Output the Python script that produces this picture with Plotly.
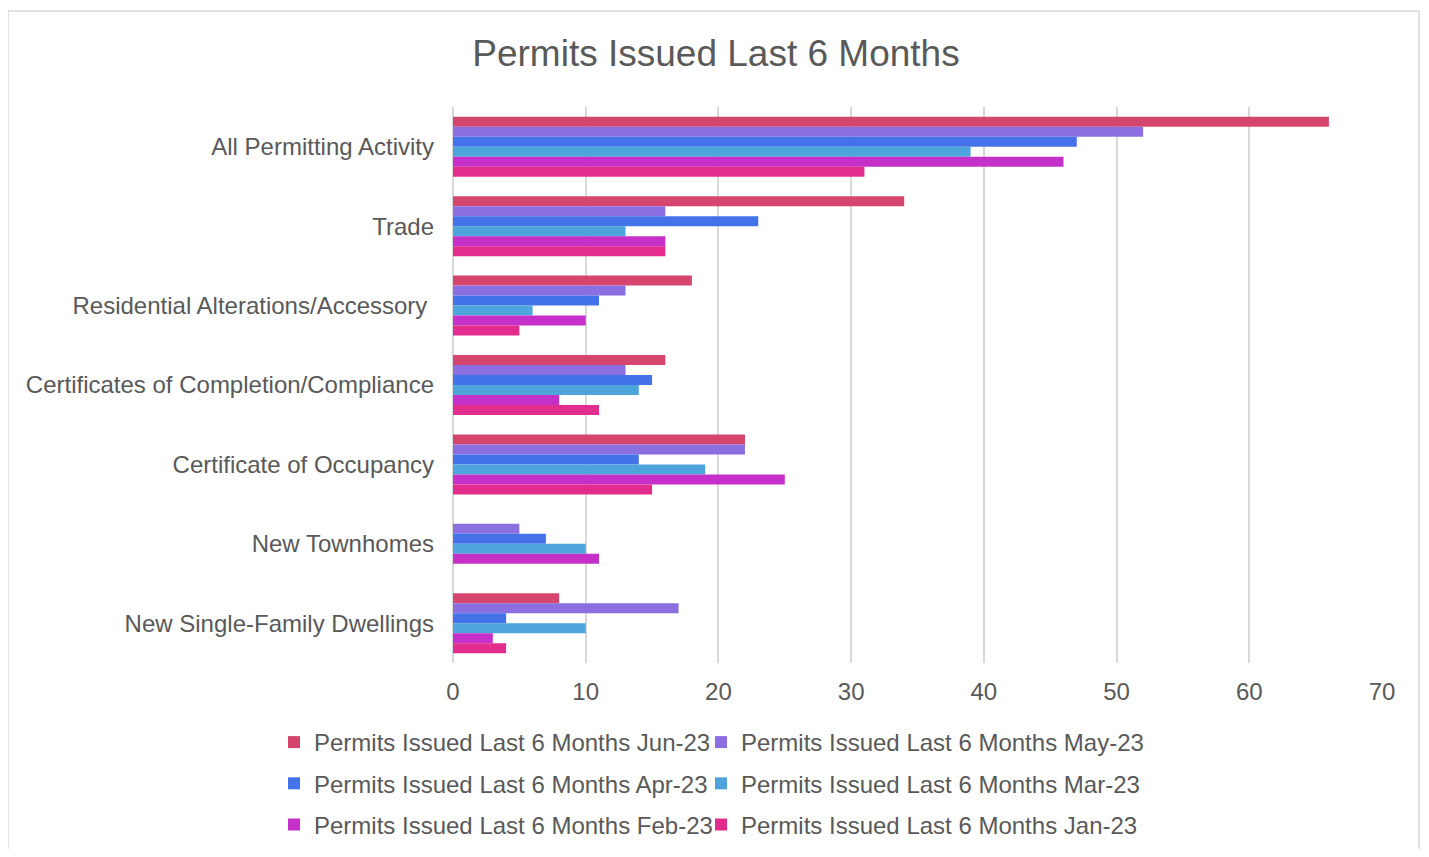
import plotly.graph_objects as go

categories = [
    "All Permitting Activity",
    "Trade",
    "Residential Alterations/Accessory ",
    "Certificates of Completion/Compliance",
    "Certificate of Occupancy",
    "New Townhomes",
    "New Single-Family Dwellings",
]

series_names = [
    "Permits Issued Last 6 Months Jun-23",
    "Permits Issued Last 6 Months May-23",
    "Permits Issued Last 6 Months Apr-23",
    "Permits Issued Last 6 Months Mar-23",
    "Permits Issued Last 6 Months Feb-23",
    "Permits Issued Last 6 Months Jan-23",
]

jun_23 = [66, 34, 18, 16, 22, 0, 8]
may_23 = [52, 16, 13, 13, 22, 5, 17]
apr_23 = [47, 23, 11, 15, 14, 7, 4]
mar_23 = [39, 13, 6, 14, 19, 10, 10]
feb_23 = [46, 16, 10, 8, 25, 11, 3]
jan_23 = [31, 16, 5, 11, 15, 0, 4]

colors = ["#D5466F", "#8B6FE0", "#4472E8", "#4EA5DC", "#C430C8", "#E32D8E"]
legend_ids = ["legend", "legend2", "legend", "legend2", "legend", "legend2"]

x_ticks = [0, 10, 20, 30, 40, 50, 60, 70]

# page has an 8px body margin; figure is sized so the page does not scroll vertically
OFF = 8
W, H = 1429 - OFF, 857 - 2 * OFF
ML, MR, MT = 453 - OFF, 1429 - 1382, 107 - OFF
MB = H - (663 - OFF)

FONT = "Liberation Sans, Arial, sans-serif"
TXT = "#595959"

fig = go.Figure()
for i, (name, vals, col, lg) in enumerate(zip(series_names,
                                               [jun_23, may_23, apr_23, mar_23, feb_23, jan_23],
                                               colors, legend_ids)):
    fig.add_trace(go.Bar(
        y=categories, x=vals, name=name, orientation="h",
        marker=dict(color=col, line=dict(width=0)),
        legend=lg, legendgroup="g%d" % i,
    ))

pw = W - ML - MR
ph = H - MT - MB
def px_x(p):
    return (p - OFF - ML) / pw
def px_y(p):
    return (H - MB - (p - OFF)) / ph

fig.add_shape(type="rect", xref="paper", yref="paper",
              x0=px_x(8), x1=px_x(1419), y0=px_y(900), y1=px_y(11),
              line=dict(color="#D9D9D9", width=1.5), fillcolor="rgba(0,0,0,0)", layer="below")

leg_common = dict(orientation="v", xref="container", yref="container", xanchor="left", yanchor="top",
                  traceorder="grouped", tracegroupgap=7, itemwidth=30,
                  font=dict(size=24, color=TXT, family=FONT), bgcolor="rgba(0,0,0,0)")

fig.update_layout(
    width=W, height=H,
    margin=dict(l=ML, r=MR, t=MT, b=MB, autoexpand=False),
    paper_bgcolor="white", plot_bgcolor="white",
    barmode="group", bargap=0.245, bargroupgap=0,
    font=dict(family=FONT, color=TXT, size=24),
    title=dict(text="Permits Issued Last 6 Months", x=(716 - OFF) / W, xref="container", xanchor="center",
               y=1 - (53 - OFF) / H, yref="container", yanchor="middle",
               font=dict(size=37, color=TXT, family=FONT)),
    xaxis=dict(range=[0, 70], tickvals=x_ticks, showgrid=True, gridcolor="#D9D9D9", gridwidth=1.5,
               zeroline=True, zerolinecolor="#D9D9D9", zerolinewidth=2, showline=False,
               ticks="", ticklabelstandoff=12, tickfont=dict(size=24, color=TXT)),
    yaxis=dict(autorange="reversed", showgrid=False, ticks="", ticklabelstandoff=18,
               tickfont=dict(size=24, color=TXT)),
    legend=dict(x=(274 - OFF) / W, y=1 - (720 - OFF) / H, **leg_common),
    legend2=dict(x=(701 - OFF) / W, y=1 - (720 - OFF) / H, **leg_common),
    showlegend=True,
)

fig.write_html("out.html")
